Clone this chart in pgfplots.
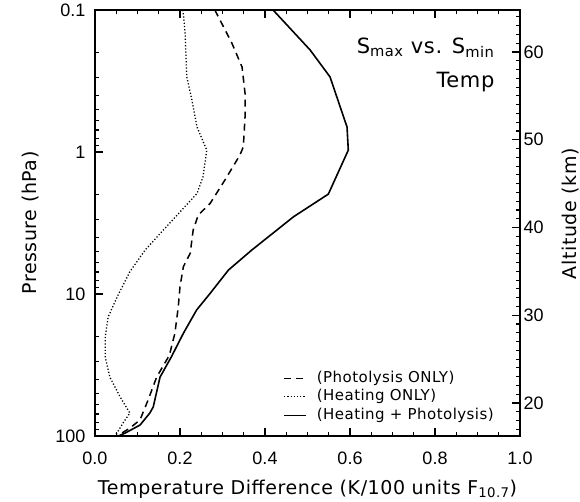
\documentclass[border=0pt]{standalone}
\usepackage{fontspec}
\setmainfont{DejaVu Sans}[LetterSpace=3]
\newfontfamily\tickfont{Liberation Sans}
\usepackage{pgfplots}
\pgfplotsset{compat=1.18}
\tikzset{tk/.style={black, line width=1.1pt}}

\pgfplotstableread{
x p
0.419 0.1
0.506 0.191
0.553 0.296
0.593 0.667
0.596 0.97
0.549 1.98
0.467 2.86
0.369 4.9
0.314 6.78
0.271 9.89
0.239 12.97
0.208 18.9
0.180 27.6
0.153 38.5
0.137 62.5
0.129 68.9
0.106 83.7
0.071 95.3
0.055 100
}\both

\pgfplotstableread{
x p
0.282 0.1
0.322 0.171
0.346 0.252
0.353 0.385
0.353 0.567
0.349 0.92
0.341 1.05
0.306 1.57
0.271 2.30
0.243 2.78
0.231 3.54
0.224 5.17
0.208 6.42
0.200 8.88
0.196 12.3
0.188 18.9
0.175 27
0.145 38.5
0.125 55.7
0.106 77
0.082 88
0.059 97
0.050 100
}\photo

\pgfplotstableread{
x p
0.207 0.1
0.212 0.145
0.216 0.296
0.228 0.43
0.240 0.667
0.263 0.97
0.254 1.5
0.240 1.96
0.161 3.54
0.118 4.9
0.082 6.97
0.052 10.5
0.031 14.5
0.024 20.1
0.024 27.8
0.035 38.5
0.059 53
0.082 68.9
0.066 81
0.052 95
0.045 100
}\heat

\begin{document}
\begin{tikzpicture}
\begin{axis}[
  scale only axis, width=425pt, height=426pt,
  xmin=0, xmax=1, ymin=0.1, ymax=100, ymode=log, y dir=reverse,
  xtick={0,0.2,0.4,0.6,0.8,1.0}, xticklabels={0.0,0.2,0.4,0.6,0.8,1.0},
  minor x tick num=3,
  ytick={0.1,1,10,100}, yticklabels={0.1,1,10,100},
  ytick pos=left, xtick pos=both, xticklabel pos=bottom,
  major tick length=8pt, minor tick length=4pt,
  every tick/.append style={black, line width=1.1pt},
  axis line style={line width=1.3pt},
  /pgf/number format/assume math mode=true,
  xticklabel style={font=\tickfont\fontsize{18}{18}\selectfont, yshift=-12pt},
  yticklabel style={font=\tickfont\fontsize{18}{18}\selectfont, xshift=-6pt},
  xlabel={Temperature Difference (K/100 units F\textsubscript{10.7})},
  xlabel style={font=\fontsize{19}{19}\selectfont, at={(axis description cs:0.5,0)}, anchor=base, yshift=-58pt},
  ylabel={Pressure (hPa)},
  ylabel style={font=\fontsize{19}{19}\selectfont, at={(axis description cs:-0.1365,0.5)}, anchor=base, rotate=0},
  legend style={at={(axis description cs:0.948,0.024)}, anchor=south east, draw=none, fill=none,
    font=\fontsize{15}{15}\selectfont, nodes={inner sep=1pt, text height=11pt, text depth=3.5pt},
    row sep=2pt, column sep=9pt},
  legend cell align=left,
  legend image code/.code={\draw[#1] (0pt,0pt) -- (22pt,0pt);},
]
\addplot[black, line width=1.5pt, dash pattern=on 7pt off 5pt] table[x=x,y=p] {\photo};
\addlegendentry{(Photolysis ONLY)}
\addplot[black, line width=1.3pt, dash pattern=on 1.2pt off 2pt] table[x=x,y=p] {\heat};
\addlegendentry{(Heating ONLY)}
\addplot[black, line width=1.6pt] table[x=x,y=p] {\both};
\addlegendentry{(Heating + Photolysis)}
\pgfplotsinvokeforeach{0,0.2,0.4,0.6,0.8,1}{
  \draw[tk] (axis cs:#1,100) -- ([yshift=8pt]axis cs:#1,100);
  \draw[tk] (axis cs:#1,0.1) -- ([yshift=-8pt]axis cs:#1,0.1);
}
\pgfplotsinvokeforeach{0.05,0.1,0.15,0.25,0.3,0.35,0.45,0.5,0.55,0.65,0.7,0.75,0.85,0.9,0.95}{
  \draw[tk] (axis cs:#1,100) -- ([yshift=4pt]axis cs:#1,100);
  \draw[tk] (axis cs:#1,0.1) -- ([yshift=-4pt]axis cs:#1,0.1);
}
\pgfplotsinvokeforeach{0.1,1,10,100}{
  \draw[tk] (axis cs:0,#1) -- ([xshift=8pt]axis cs:0,#1);
}
\pgfplotsinvokeforeach{0.2,0.3,0.4,0.5,0.6,0.7,0.8,0.9,2,3,4,5,6,7,8,9,20,30,40,50,60,70,80,90}{
  \draw[tk] (axis cs:0,#1) -- ([xshift=4pt]axis cs:0,#1);
}
\node[anchor=base east, font=\fontsize{21}{21}\selectfont] at (axis description cs:0.948,0.899) {S\textsubscript{max} vs. S\textsubscript{min}};
\node[anchor=base east, font=\fontsize{21}{21}\selectfont] at (axis description cs:0.948,0.817) {Temp};
\end{axis}
\begin{axis}[
  scale only axis, width=425pt, height=426pt,
  xmin=0, xmax=1, ymin=16.24, ymax=64.79,
  axis x line=none, axis y line*=right,
  ytick={20,30,40,50,60}, minor ytick={17,18,...,64},
  tick align=inside,
  major tick length=8pt, minor tick length=4pt,
  every tick/.append style={black, line width=1.1pt},
  axis line style={line width=1.3pt, -},
  /pgf/number format/assume math mode=true,
  yticklabel style={font=\tickfont\fontsize{18}{18}\selectfont},
  ylabel={Altitude (km)},
  ylabel style={font=\fontsize{19}{19}\selectfont, at={(axis description cs:1.132,0.522)}, anchor=base, rotate=0},
]
\addplot[draw=none] coordinates {(0.5,20)};
\pgfplotsinvokeforeach{20,30,40,50,60}{
  \draw[tk] (axis cs:1,#1) -- ([xshift=-8pt]axis cs:1,#1);
}
\pgfplotsinvokeforeach{17,18,19,21,22,23,24,25,26,27,28,29,31,32,33,34,35,36,37,38,39,41,42,43,44,45,46,47,48,49,51,52,53,54,55,56,57,58,59,61,62,63,64}{
  \draw[tk] (axis cs:1,#1) -- ([xshift=-4pt]axis cs:1,#1);
}
\end{axis}
\pgfresetboundingbox
\path[use as bounding box] (-95pt,-65pt) rectangle (485pt,436pt);
\end{tikzpicture}
\end{document}
